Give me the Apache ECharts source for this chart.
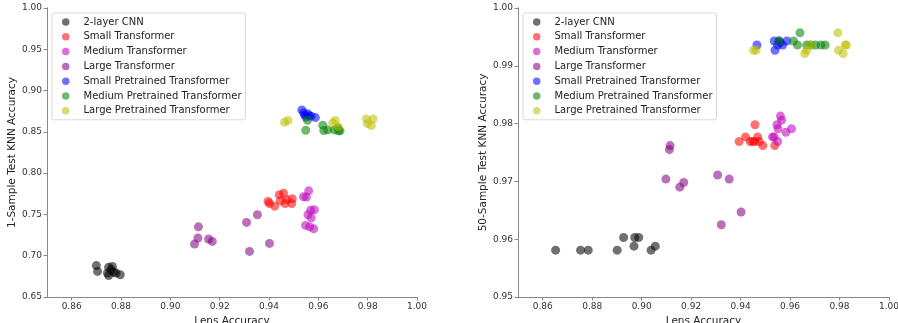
<!DOCTYPE html>
<html><head><meta charset="utf-8">
<script src="https://cdn.jsdelivr.net/npm/echarts@6/dist/echarts.min.js"></script>
<style>html,body{margin:0;padding:0;background:#fff}#c{width:898px;height:323px}</style>
</head><body><div id="c"></div>
<script>
const seriesNames = ["2-layer CNN","Small Transformer","Medium Transformer","Large Transformer","Small Pretrained Transformer","Medium Pretrained Transformer","Large Pretrained Transformer"];
const seriesColors = ["#000000","#ff0000","#bf00bf","#800080","#0000ff","#008000","#bfbf00"];
const xTicks = [0.86,0.88,0.90,0.92,0.94,0.96,0.98,1.00];
const yTicksLeft = [0.65,0.70,0.75,0.80,0.85,0.90,0.95,1.00];
const yTicksRight = [0.95,0.96,0.97,0.98,0.99,1.00];

// Left panel: [lens accuracy, 1-sample KNN accuracy]
const cnn1 = [[0.870,0.688],[0.8705,0.681],[0.875,0.686],[0.8765,0.687],[0.8745,0.679],[0.875,0.676],[0.877,0.680],[0.878,0.679],[0.8797,0.677],[0.876,0.683]];
const smallT1 = [[0.9396,0.7657],[0.9402,0.7633],[0.9423,0.760],[0.9442,0.7738],[0.9459,0.7758],[0.9446,0.7665],[0.9465,0.7633],[0.9472,0.768],[0.9494,0.769],[0.9492,0.7633]];
const mediumT1 = [[0.9561,0.7786],[0.9540,0.7714],[0.9552,0.771],[0.9569,0.7552],[0.9584,0.7556],[0.9558,0.7496],[0.9571,0.746],[0.9548,0.7367],[0.9565,0.735],[0.9581,0.7327]];
const largeT1 = [[0.9114,0.735],[0.9112,0.7214],[0.9098,0.7141],[0.9155,0.7202],[0.917,0.7173],[0.9309,0.7403],[0.9353,0.7496],[0.9321,0.7052],[0.9402,0.7149]];
const smallP1 = [[0.9533,0.8766],[0.954,0.873],[0.9545,0.8702],[0.9557,0.8718],[0.9564,0.8694],[0.9571,0.869],[0.9588,0.8673],[0.955,0.868]];
const mediumP1 = [[0.9556,0.8641],[0.9549,0.852],[0.9618,0.8581],[0.9622,0.8516],[0.9638,0.8524],[0.9665,0.8524],[0.9679,0.8548],[0.9688,0.8512],[0.9682,0.8512]];
const largeP1 = [[0.9463,0.8617],[0.9477,0.8637],[0.9658,0.8609],[0.9669,0.8637],[0.968,0.856],[0.9795,0.8657],[0.9799,0.860],[0.9815,0.8577],[0.9822,0.8657]];

// Right panel: [lens accuracy, 50-sample KNN accuracy]
const cnn50 = [[0.8652,0.9581],[0.8753,0.9581],[0.8784,0.9581],[0.8901,0.9581],[0.8927,0.9603],[0.8969,0.9588],[0.8972,0.9603],[0.8988,0.9603],[0.9038,0.9581],[0.9055,0.9588]];
const smallT50 = [[0.9394,0.9769],[0.9420,0.9777],[0.9439,0.9769],[0.9458,0.9769],[0.9458,0.9798],[0.9469,0.9777],[0.9475,0.9769],[0.949,0.9762],[0.9538,0.9762],[0.9449,0.9769]];
const mediumT50 = [[0.9561,0.9813],[0.9566,0.9806],[0.9547,0.9798],[0.9551,0.9791],[0.9529,0.9777],[0.9536,0.9777],[0.955,0.9769],[0.9583,0.9785],[0.9606,0.9791]];
const largeT50 = [[0.9115,0.9762],[0.9112,0.9755],[0.9098,0.9704],[0.9154,0.969],[0.917,0.9698],[0.9307,0.9711],[0.9354,0.9704],[0.9402,0.9647],[0.9322,0.9625]];
const smallP50 = [[0.9466,0.9936],[0.9536,0.9943],[0.9539,0.9927],[0.955,0.9936],[0.9556,0.9943],[0.957,0.9936],[0.9587,0.9943],[0.9560,0.994]];
const mediumP50 = [[0.964,0.9957],[0.9554,0.9943],[0.9614,0.9943],[0.963,0.9936],[0.9667,0.9936],[0.9703,0.9936],[0.9725,0.9936],[0.9742,0.9936],[0.9684,0.9936]];
const largeP50 = [[0.9452,0.9927],[0.9463,0.9927],[0.9659,0.9921],[0.9667,0.9927],[0.9684,0.9936],[0.9793,0.9957],[0.9796,0.9927],[0.9815,0.9921],[0.9823,0.9936],[0.9828,0.9936]];

const leftData = [cnn1, smallT1, mediumT1, largeT1, smallP1, mediumP1, largeP1];
const rightData = [cnn50, smallT50, mediumT50, largeT50, smallP50, mediumP50, largeP50];

const FONT = "DejaVu Sans";
function hexA(h,a){const r=parseInt(h.slice(1,3),16),g=parseInt(h.slice(3,5),16),b=parseInt(h.slice(5,7),16);return `rgba(${r},${g},${b},${a})`;}
const SPINE = '#888';

function xAxis(idx){
  return {gridIndex:idx,type:'value',min:0.85,max:1.0,interval:0.01,
    axisLine:{show:true,onZero:false,lineStyle:{color:SPINE,width:1}},
    axisTick:{show:true,length:3.5,lineStyle:{color:SPINE},customValues: xTicks},
    axisLabel:{color:'#333',fontSize:9,fontFamily:FONT,margin:5,customValues: xTicks, formatter:v=>v.toFixed(2)},
    splitLine:{show:false},
    name:'Lens Accuracy',nameLocation:'middle',nameGap:16,
    nameTextStyle:{color:'#222',fontSize:10.5,fontFamily:FONT}};
}
function yAxis(idx,min,max,ticks,name){
  return {gridIndex:idx,type:'value',min:min,max:max,
    axisLine:{show:true,onZero:false,lineStyle:{color:SPINE,width:1}},
    axisTick:{show:true,length:3.5,lineStyle:{color:SPINE},customValues:ticks},
    axisLabel:{color:'#333',fontSize:9,fontFamily:FONT,margin:5,customValues:ticks,formatter:v=>v.toFixed(2)},
    splitLine:{show:false},
    name:name,nameLocation:'middle',nameGap:28,
    nameTextStyle:{color:'#222',fontSize:10.5,fontFamily:FONT}};
}
function frameX(idx){return {gridIndex:idx,type:'value',position:'top',min:0,max:1,axisLine:{show:true,lineStyle:{color:SPINE}},axisTick:{show:false},axisLabel:{show:false},splitLine:{show:false}};}
function frameY(idx){return {gridIndex:idx,type:'value',position:'right',min:0,max:1,axisLine:{show:true,lineStyle:{color:SPINE}},axisTick:{show:false},axisLabel:{show:false},splitLine:{show:false}};}

const series = [];
[leftData,rightData].forEach((panel,p)=>{
  panel.forEach((d,i)=>{
    series.push({type:'scatter',name:seriesNames[i],xAxisIndex:p,yAxisIndex:p,data:d,symbolSize:9,
      itemStyle:{color:hexA(seriesColors[i],0.7)},emphasis:{disabled:true}});
  });
});

function legend(left){
  return {left:left,top:13,orient:'vertical',data:seriesNames,icon:'circle',itemWidth:7.5,itemHeight:7.5,itemGap:2.8,
    backgroundColor:'#fff',borderColor:'#d8d8d8',borderWidth:1,borderRadius:2,padding:[3,4,3,10],
    textStyle:{color:'#222',fontSize:10,lineHeight:12,fontFamily:FONT,padding:[0,0,0,9]}, selectedMode:false, z:10};
}

const chart = echarts.init(document.getElementById('c'),null,{renderer:'canvas'});
chart.setOption({
  animation:false,
  textStyle:{fontFamily:FONT},
  grid:[{left:47,right:481,top:8,bottom:26,containLabel:false,outerBoundsMode:'none'},
        {left:518,right:9,top:8,bottom:26,containLabel:false,outerBoundsMode:'none'}],
  xAxis:[xAxis(0),xAxis(1),frameX(0),frameX(1)],
  yAxis:[yAxis(0,0.65,1.0,yTicksLeft,'1-Sample Test KNN Accuracy'),yAxis(1,0.95,1.0,yTicksRight,'50-Sample Test KNN Accuracy'),frameY(0),frameY(1)],
  legend:[legend(52),legend(523)],
  series:series
});
</script></body></html>
